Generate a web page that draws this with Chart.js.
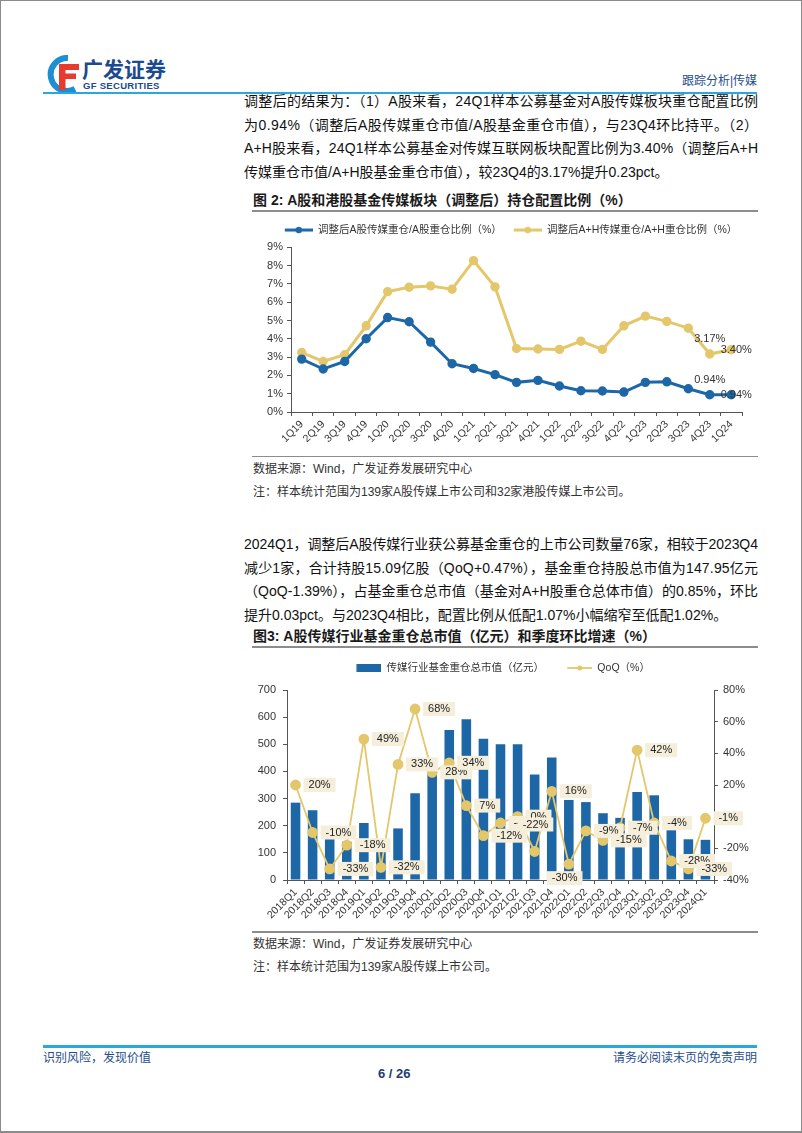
<!DOCTYPE html>
<html><head><meta charset="utf-8">
<script src="https://cdn.jsdelivr.net/npm/chart.js@4.4.1/dist/chart.umd.min.js"></script>
<style>
html,body{margin:0;padding:0;background:#fff;}
#page{position:relative;width:802px;height:1133px;overflow:hidden;font-family:"Liberation Sans","Noto Sans CJK SC",sans-serif;}
#frame{position:absolute;left:0;top:0;width:802px;height:1133px;box-sizing:border-box;border:1px solid #8a8a8a;border-bottom-width:2px;pointer-events:none;}
.t{position:absolute;white-space:nowrap;}
.jl{position:absolute;left:244px;font-size:14px;line-height:20px;color:#111;white-space:nowrap;}
.ft{position:absolute;left:253px;font-size:14px;line-height:20px;font-weight:bold;color:#1a1a1a;white-space:nowrap;}
.rule{position:absolute;left:252px;width:506px;height:2px;background:#8c8c8c;}
.src{position:absolute;left:253px;font-size:12px;line-height:16px;color:#333;white-space:nowrap;}
.blue{position:absolute;left:43px;width:714px;height:2px;background:#2aa7dc;}
canvas{position:absolute;}
</style></head>
<body><div id="page">
<svg width="40" height="38" style="position:absolute;left:44px;top:55px" viewBox="0 0 40 38">
  <path d="M24 3 A16.5 16.5 0 1 0 31 34" stroke="#1b8fd2" stroke-width="6" fill="none"/>
  <path d="M15 9 H35 V15 H21.5 V18.5 H32 V24 H21.5 V35 H15 Z" fill="#e63b2e"/>
</svg>
<div class="t" style="left:82px;top:58px;font-size:21px;line-height:24px;font-weight:bold;color:#1c4a8e;">广发证券</div>
<div class="t" style="left:83px;top:80px;font-size:9.5px;line-height:12px;font-weight:bold;color:#1c4a8e;letter-spacing:0.3px;">GF SECURITIES</div>
<div class="t" style="right:45px;top:72px;font-size:12px;line-height:18px;color:#1f4e8c;">跟踪分析|传媒</div>
<div class="blue" style="top:92px;"></div>

<div class="jl" data-w="514" style="top:91px;">调整后的结果为：（1）A股来看，24Q1样本公募基金对A股传媒板块重仓配置比例</div>
<div class="jl" data-w="514" style="top:114.5px;">为0.94%（调整后A股传媒重仓市值/A股基金重仓市值），与23Q4环比持平。（2）</div>
<div class="jl" data-w="514" style="top:138px;">A+H股来看，24Q1样本公募基金对传媒互联网板块配置比例为3.40%（调整后A+H</div>
<div class="jl" style="top:161.5px;">传媒重仓市值/A+H股基金重仓市值），较23Q4的3.17%提升0.23pct。</div>

<div class="ft" style="top:190px;">图 2: A股和港股基金传媒板块（调整后）持仓配置比例（%）</div>
<div class="rule" style="top:209.5px;"></div>
<canvas id="c2" width="520" height="232" style="left:240px;top:218px;"></canvas>
<div class="rule" style="top:455.5px;height:1.5px;"></div>
<div class="src" style="top:461px;">数据来源：Wind，广发证券发展研究中心</div>
<div class="src" style="top:484px;">注：样本统计范围为139家A股传媒上市公司和32家港股传媒上市公司。</div>

<div class="jl" data-w="514" style="top:534px;">2024Q1，调整后A股传媒行业获公募基金重仓的上市公司数量76家，相较于2023Q4</div>
<div class="jl" data-w="514" style="top:557.5px;">减少1家，合计持股15.09亿股（QoQ+0.47%），基金重仓持股总市值为147.95亿元</div>
<div class="jl" data-w="514" style="top:581px;">（QoQ-1.39%），占基金重仓总市值（基金对A+H股重仓总体市值）的0.85%，环比</div>
<div class="jl" style="top:604.5px;">提升0.03pct。与2023Q4相比，配置比例从低配1.07%小幅缩窄至低配1.02%。</div>

<div class="ft" style="top:626px;">图3: A股传媒行业基金重仓总市值（亿元）和季度环比增速（%）</div>
<div class="rule" style="top:645.5px;"></div>
<canvas id="c3" width="520" height="272" style="left:240px;top:655px;"></canvas>
<div class="rule" style="top:931px;height:1.5px;"></div>
<div class="src" style="top:936px;">数据来源：Wind，广发证券发展研究中心</div>
<div class="src" style="top:959px;">注：样本统计范围为139家A股传媒上市公司。</div>

<div class="blue" style="top:1045px;height:2.5px;"></div>
<div class="t" style="left:43px;top:1049.5px;font-size:12px;line-height:16px;color:#1f4e8c;">识别风险，发现价值</div>
<div class="t" style="right:45px;top:1049.5px;font-size:12px;line-height:16px;color:#1f4e8c;">请务必阅读末页的免责声明</div>
<div class="t" style="left:378px;top:1065px;font-size:13px;line-height:17px;font-weight:bold;color:#1f3d73;">6 / 26</div>
<div id="frame"></div>
</div>
<script>
// ---------- data ----------
const ratioQuarters = ['1Q19','2Q19','3Q19','4Q19','1Q20','2Q20','3Q20','4Q20','1Q21','2Q21','3Q21','4Q21','1Q22','2Q22','3Q22','4Q22','1Q23','2Q23','3Q23','4Q23','1Q24'];
const aShareMediaRatio = [2.89,2.35,2.76,4.00,5.16,4.93,3.82,2.64,2.38,2.04,1.62,1.73,1.42,1.16,1.15,1.09,1.62,1.65,1.27,0.94,0.94];
const ahShareMediaRatio = [3.25,2.76,3.13,4.71,6.58,6.82,6.89,6.71,8.27,6.84,3.47,3.44,3.42,3.87,3.42,4.71,5.24,4.95,4.58,3.17,3.40];
const ratioSeriesNames = ['调整后A股传媒重仓/A股重仓比例（%）','调整后A+H传媒重仓/A+H重仓比例（%）'];

const capQuarters = ['2018Q1','2018Q2','2018Q3','2018Q4','2019Q1','2019Q2','2019Q3','2019Q4','2020Q1','2020Q2','2020Q3','2020Q4','2021Q1','2021Q2','2021Q3','2021Q4','2022Q1','2022Q2','2022Q3','2022Q4','2023Q1','2023Q2','2023Q3','2023Q4','2024Q1'];
const mediaFundCap = [285,257,172,141,210,143,190,320,405,553,592,520,500,500,389,451,295,287,246,229,324,312,183,150,148];
const mediaFundCapQoQ = [20,-10,-33,-18,49,-32,33,68,28,34,7,-12,-4,0,-22,16,-30,-9,-15,-7,42,-4,-28,-33,-1];
const capSeriesNames = ['传媒行业基金重仓总市值（亿元）','QoQ（%）'];

// ---------- justify text lines ----------
document.querySelectorAll('.jl[data-w]').forEach(el => {
  const target = +el.dataset.w;
  const n = [...el.textContent].length;
  const w = el.getBoundingClientRect().width;
  if (n > 1) el.style.letterSpacing = ((target - w) / (n - 1)) + 'px';
});

// ---------- chart helpers ----------
const FONT = '"Liberation Sans","Noto Sans CJK SC",sans-serif';
Chart.defaults.font.family = FONT;
Chart.defaults.color = '#333';
const BLUE = '#1d67a7', GOLD = '#e4c66b', AXIS = '#555';

function lineIcon(color, blank, len, lw, r) {
  const c = document.createElement('canvas');
  c.width = blank + len; c.height = 10;
  const g = c.getContext('2d');
  g.strokeStyle = color; g.lineWidth = lw;
  g.beginPath(); g.moveTo(blank, 5); g.lineTo(blank + len, 5); g.stroke();
  g.fillStyle = color; g.beginPath(); g.arc(blank + len / 2, 5, r, 0, Math.PI * 2); g.fill();
  return c;
}
function rectIcon(color, blank, len, h) {
  const c = document.createElement('canvas');
  c.width = blank + len; c.height = 10;
  const g = c.getContext('2d');
  g.fillStyle = color; g.fillRect(blank, 5 - h / 2, len, h);
  return c;
}
const legendShift = { id: 'legendShift', afterLayout(chart, args, opts) {
  const lg = chart.legend; if (!lg) return;
  if (opts.dx) { lg.left += opts.dx; lg.right += opts.dx; }
  if (opts.dy) { lg.top += opts.dy; lg.bottom += opts.dy; }
}};

// ---------- chart 2 ----------
const c2Blank = 10, c2Pad = 2;
const c2Icons = [lineIcon(BLUE, c2Blank, 28, 3, 3.2), lineIcon(GOLD, c2Blank, 28, 3, 3.2)];
const endLabels = { id: 'endLabels', afterDatasetsDraw(chart) {
  const ctx = chart.ctx; ctx.save();
  ctx.font = '11px ' + FONT; ctx.fillStyle = '#333'; ctx.textBaseline = 'middle'; ctx.textAlign = 'center';
  chart.data.datasets.forEach((ds, di) => {
    const meta = chart.getDatasetMeta(di); const n = ds.data.length;
    const p1 = meta.data[n - 2], p2 = meta.data[n - 1];
    ctx.fillText(ds.data[n - 2].toFixed(2) + '%', p1.x, p1.y - 15);
    ctx.fillText(ds.data[n - 1].toFixed(2) + '%', p2.x + 5, p2.y);
  });
  ctx.restore();
}};
new Chart(document.getElementById('c2'), {
  type: 'line',
  data: { labels: ratioQuarters, datasets: [
    { label: ratioSeriesNames[0], data: aShareMediaRatio, borderColor: BLUE, backgroundColor: BLUE, borderWidth: 3, pointRadius: 3.2, pointBackgroundColor: BLUE, pointBorderColor: BLUE, tension: 0 },
    { label: ratioSeriesNames[1], data: ahShareMediaRatio, borderColor: GOLD, backgroundColor: GOLD, borderWidth: 3, pointRadius: 3.2, pointBackgroundColor: GOLD, pointBorderColor: GOLD, tension: 0 }
  ]},
  options: {
    responsive: false, animation: false, devicePixelRatio: 1, events: [],
    layout: { padding: { top: 6.8, right: 18, left: 0, bottom: 0 } },
    plugins: {
      tooltip: { enabled: false },
      legendShift: { dx: 15, dy: -2 },
      legend: { position: 'top', align: 'center', labels: {
        usePointStyle: true, pointStyleWidth: c2Blank + 28, padding: c2Pad, color: '#333', font: { size: 10.5 },
        generateLabels(chart) { const items = Chart.defaults.plugins.legend.labels.generateLabels(chart); items.forEach(it => it.pointStyle = c2Icons[it.datasetIndex]); return items; }
      }}
    },
    scales: {
      x: { offset: true, grid: { offset: true, drawOnChartArea: false, drawTicks: true, tickLength: 4, color: AXIS }, border: { color: AXIS },
           ticks: { autoSkip: false, minRotation: 45, maxRotation: 45, padding: 2, font: { size: 10.5 }, color: '#333' },
           afterFit(s) { s.height = 38; } },
      y: { min: 0, max: 9, grid: { drawOnChartArea: false, drawTicks: true, tickLength: 4, color: AXIS }, border: { color: AXIS },
           ticks: { stepSize: 1, padding: 4, font: { size: 11 }, color: '#333', callback: v => v + '%' },
           afterFit(s) { s.width = 51; } }
    }
  },
  plugins: [endLabels, legendShift]
});

// ---------- chart 3 ----------
const c3Pad = 6.75, c3Blank = 16.25;
const c3Icons = [rectIcon(BLUE, c3Blank, 25, 8), lineIcon(GOLD, c3Blank, 25, 1.8, 2.5)];
const qoqLabels = { id: 'qoqLabels', afterDatasetsDraw(chart, args, opts) {
  const ctx = chart.ctx; ctx.save();
  ctx.font = '11px ' + FONT; ctx.textBaseline = 'middle'; ctx.textAlign = 'left';
  const meta = chart.getDatasetMeta(1); const ds = chart.data.datasets[1];
  meta.data.forEach((p, i) => {
    const txt = ds.data[i] + '%';
    const w = ctx.measureText(txt).width;
    const nd = (opts.nudges && opts.nudges[i]) || [13, 0];
    const lx = p.x + nd[0], cy = p.y + nd[1];
    ctx.fillStyle = '#f5eedb'; ctx.fillRect(lx - 5, cy - 7, w + 10, 14);
    ctx.fillStyle = '#222'; ctx.fillText(txt, lx, cy);
  });
  ctx.restore();
}};
new Chart(document.getElementById('c3'), {
  type: 'bar',
  data: { labels: capQuarters, datasets: [
    { type: 'bar', label: capSeriesNames[0], data: mediaFundCap, backgroundColor: BLUE, yAxisID: 'y', order: 2, barPercentage: 0.56, categoryPercentage: 1 },
    { type: 'line', label: capSeriesNames[1], data: mediaFundCapQoQ, yAxisID: 'y1', order: 1, borderColor: GOLD, backgroundColor: GOLD, borderWidth: 1.8, pointRadius: 4.5, pointBackgroundColor: GOLD, pointBorderColor: GOLD, tension: 0 }
  ]},
  options: {
    responsive: false, animation: false, devicePixelRatio: 1, events: [],
    layout: { padding: { top: 7.75, right: 0, left: 0, bottom: 0 } },
    plugins: {
      tooltip: { enabled: false },
      legendShift: { dx: -5, dy: -6.75 },
      qoqLabels: { nudges: { 14: [-12, -27], 16: [-17, 14] } },
      legend: { position: 'top', align: 'center', labels: {
        usePointStyle: true, pointStyleWidth: c3Blank + 25, padding: c3Pad, color: '#333', font: { size: 10.5 },
        sort: (a, b) => a.datasetIndex - b.datasetIndex,
        generateLabels(chart) { const items = Chart.defaults.plugins.legend.labels.generateLabels(chart); items.forEach(it => it.pointStyle = c3Icons[it.datasetIndex]); return items; }
      }}
    },
    scales: {
      x: { offset: true, grid: { offset: true, drawOnChartArea: false, drawTicks: true, tickLength: 4, color: AXIS }, border: { color: AXIS },
           ticks: { autoSkip: false, minRotation: 45, maxRotation: 45, padding: 2, font: { size: 10.5 }, color: '#333' },
           afterFit(s) { s.height = 47; } },
      y: { position: 'left', min: 0, max: 700, grid: { drawOnChartArea: false, drawTicks: true, tickLength: 4, color: AXIS }, border: { color: AXIS },
           ticks: { stepSize: 100, padding: 7, font: { size: 11 }, color: '#333' },
           afterFit(s) { s.width = 47; } },
      y1: { position: 'right', z: 1, min: -40, max: 80, grid: { drawOnChartArea: false, drawTicks: true, tickLength: 4, color: AXIS }, border: { color: AXIS },
           ticks: { stepSize: 20, padding: 5, font: { size: 11 }, color: '#333', callback: v => v + '%' },
           afterFit(s) { s.width = 46; } }
    }
  },
  plugins: [qoqLabels, legendShift]
});
</script>
</body></html>
